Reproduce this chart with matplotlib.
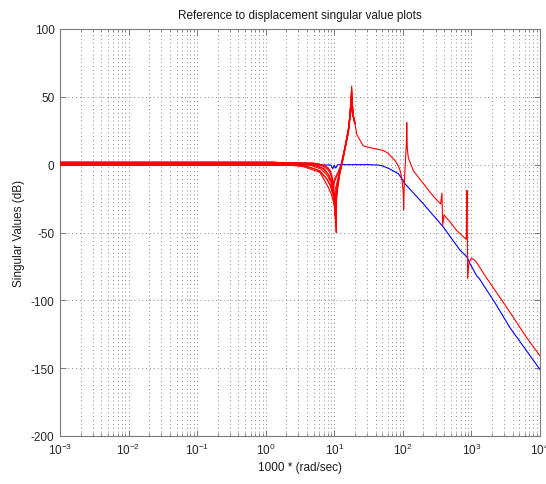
import numpy as np
import matplotlib
matplotlib.use("Agg")
import matplotlib.pyplot as plt
from matplotlib.ticker import LogLocator, LogFormatterMathtext, FixedLocator, NullFormatter

plt.rcParams["font.family"] = ["Liberation Sans", "DejaVu Sans"]
plt.rcParams["mathtext.fontset"] = "custom"
plt.rcParams["mathtext.rm"] = "Liberation Sans"
plt.rcParams["mathtext.it"] = "Liberation Sans"
plt.rcParams["axes.unicode_minus"] = False

TITLE = "Reference to displacement singular value plots"
XLABEL = "1000 * (rad/sec)"
YLABEL = "Singular Values (dB)"
Y_TICKS = [-200, -150, -100, -50, 0, 50, 100]

# Reference model (blue)
BLUE_FREQ = [0.001, 3.16, 8.9, 9.5, 10.0, 10.5, 11.2, 31.6, 44.7, 50.0, 64.6,
             86.0, 101.0, 107.0, 200.0, 360.0, 389.0, 681.0, 861.0, 955.0,
             1194.0, 1303.0, 2089.0, 2344.0, 3631.0, 10000.0]
BLUE_DB = [0.0, 0.0, -0.3, -3.0, -0.5, -2.5, 0.0, 0.0, -0.3, -0.8, -3.2,
           -6.7, -11.8, -14.0, -29.0, -44.0, -46.0, -63.0, -68.0, -73.0,
           -82.0, -84.0, -100.0, -104.0, -120.0, -151.0]

# Displacement responses (red): individual low-frequency parts up to the first peak
RED1_FREQ = [0.001, 1.26, 1.58, 5.01, 7.08, 8.51, 9.23, 9.66, 10.0, 10.96, 12.11,
             12.82, 14.35, 16.03, 16.98, 17.70, 18.41, 19.95]
RED1_DB = [2.0, 2.0, 1.6, 1.2, -0.5, -3.5, -8.0, -22.0, -13.0, -8.0, -3.0,
           1.5, 13.5, 26.0, 38.0, 49.0, 38.0, 30.5]

RED2_FREQ = [0.001, 2.0, 5.01, 7.08, 8.51, 9.33, 9.77, 10.0, 10.28, 10.96, 12.11,
             12.82, 14.35, 16.03, 16.98, 17.82, 18.54, 19.95]
RED2_DB = [1.4, 1.4, 1.0, -1.5, -5.0, -11.0, -18.0, -30.0, -19.0, -13.0, -4.0,
           0.8, 13.0, 25.5, 37.5, 54.0, 37.0, 30.5]

RED3_FREQ = [0.001, 2.51, 5.01, 7.08, 8.32, 9.12, 9.89, 10.23, 10.47, 11.09, 12.11,
             12.82, 14.35, 16.03, 16.98, 17.95, 18.62, 19.95]
RED3_DB = [0.9, 0.9, 0.2, -3.0, -7.5, -13.0, -22.0, -38.0, -24.0, -15.0, -4.4,
           0.5, 12.7, 25.0, 37.0, 58.0, 38.0, 30.5]

RED4_FREQ = [0.001, 2.51, 4.47, 6.31, 7.94, 8.91, 9.66, 10.12, 10.42, 11.09, 12.11,
             12.82, 14.35, 16.03, 16.98, 18.07, 18.71, 19.95]
RED4_DB = [0.4, 0.4, -0.5, -3.0, -8.0, -13.0, -19.0, -28.0, -22.0, -15.5, -5.0,
           0.0, 12.0, 24.5, 36.0, 51.0, 37.0, 30.5]

RED5_FREQ = [0.001, 2.51, 3.98, 6.17, 7.94, 8.91, 9.77, 10.23, 10.47, 10.67, 11.22,
             12.11, 12.82, 14.35, 16.03, 16.98, 18.20, 18.84, 19.95]
RED5_DB = [-0.1, -0.1, -1.2, -4.5, -11.0, -16.0, -24.0, -32.0, -44.0, -27.0, -16.0,
           -5.2, -0.3, 11.8, 24.0, 35.5, 47.0, 36.0, 30.5]

RED6_FREQ = [0.001, 2.51, 3.55, 6.17, 8.18, 9.12, 10.0, 10.47, 10.67, 10.84, 11.48,
             12.11, 12.82, 14.35, 16.03, 16.98, 18.28, 18.97, 19.95]
RED6_DB = [-0.6, -0.6, -1.5, -5.6, -16.7, -22.0, -30.0, -38.0, -50.0, -22.0, -13.0,
           -5.6, -0.6, 11.5, 23.5, 35.0, 44.0, 35.0, 30.5]

RED7_FREQ = [0.001, 1.26, 1.58, 5.62, 7.50, 8.71, 9.23, 9.44, 9.77, 10.47, 11.48,
             12.59, 14.13, 16.03, 16.98, 17.78, 18.45, 19.95]
RED7_DB = [1.7, 1.7, 1.4, 0.8, -1.0, -4.5, -9.0, -20.0, -12.0, -9.0, -5.0,
           0.5, 11.5, 25.5, 37.5, 52.0, 38.0, 30.5]

RED8_FREQ = [0.001, 2.51, 4.73, 6.68, 8.13, 9.02, 9.77, 10.35, 10.59, 11.22, 12.11,
             12.82, 14.35, 16.03, 16.98, 18.00, 18.66, 19.95]
RED8_DB = [0.6, 0.6, -0.2, -2.5, -7.0, -12.0, -20.0, -33.0, -22.0, -14.0, -4.8,
           0.2, 12.3, 24.8, 36.5, 55.0, 37.5, 30.5]

RED9_FREQ = [0.001, 2.51, 3.76, 5.62, 7.50, 8.71, 9.55, 10.23, 10.52, 10.72, 11.35,
             12.11, 12.82, 14.35, 16.03, 16.98, 18.14, 18.78, 19.95]
RED9_DB = [0.1, 0.1, -1.0, -3.8, -9.5, -15.0, -22.0, -32.0, -46.0, -25.0, -14.5,
           -5.4, -0.4, 11.6, 23.8, 35.2, 49.0, 36.5, 30.5]

# Shared high-frequency part of the red responses (the curves coincide here)
RED_TAIL_FREQ = [19.95, 21.38, 26.30, 33.11, 38.90, 44.67, 52.48, 60.26, 67.61, 76.91,
                 85.11, 90.78, 96.61, 101.2, 102.8, 104.7, 108.4, 112.2, 114.0,
                 116.1, 120.2, 127.1, 141.9, 199.5, 275.4, 354.8, 371.5, 380.2,
                 398.1, 501.2, 609.5, 758.6, 841.4, 861.0, 881.0, 922.6, 1000.0,
                 1122.0, 1259.0, 1660.0, 2917.0, 4074.0, 6397.0, 10000.0]
RED_TAIL_DB = [30.5, 22.0, 14.0, 12.5, 11.8, 11.2, 10.3, 8.6, 6.0, 3.0,
               -0.5, -4.0, -10.0, -20.0, -33.0, -15.0, 0.0, 14.0, 31.0,
               12.0, 5.0, 2.0, -4.4, -14.0, -23.0, -29.0, -21.0, -45.0,
               -37.0, -43.0, -48.5, -53.0, -55.0, -19.0, -84.0, -72.0, -69.0,
               -70.5, -74.0, -83.5, -101.5, -112.5, -127.5, -141.0]

RED_HEADS = [(RED1_FREQ, RED1_DB), (RED7_FREQ, RED7_DB), (RED2_FREQ, RED2_DB),
             (RED3_FREQ, RED3_DB), (RED8_FREQ, RED8_DB), (RED4_FREQ, RED4_DB),
             (RED9_FREQ, RED9_DB), (RED5_FREQ, RED5_DB), (RED6_FREQ, RED6_DB)]

fig = plt.figure(figsize=(5.46, 4.85), dpi=100)
ax = fig.add_axes([60 / 546, 1 - 437 / 485, 480 / 546, 407 / 485])

ax.semilogx(BLUE_FREQ, BLUE_DB, color="#0000ff", lw=0.8, zorder=3)
for f_head, db_head in RED_HEADS:
    ax.semilogx(f_head, db_head, color="#ff0000", lw=0.8, zorder=4)
ax.semilogx(RED_TAIL_FREQ, RED_TAIL_DB, color="#ff0000", lw=0.8, zorder=4)

ax.set_xlim(1e-3, 1e4)
ax.set_ylim(-200, 100)
ax.xaxis.set_major_locator(LogLocator(base=10, numticks=20))
ax.xaxis.set_minor_locator(LogLocator(base=10, subs=np.arange(2, 10), numticks=20))
ax.xaxis.set_major_formatter(LogFormatterMathtext())
ax.xaxis.set_minor_formatter(NullFormatter())
ax.yaxis.set_major_locator(FixedLocator(Y_TICKS))

grid_style = dict(color="#8a8a8a", linestyle=(0, (1, 3)), linewidth=0.7)
ax.grid(True, which="major", axis="both", **grid_style)
ax.grid(True, which="minor", axis="x", **grid_style)
ax.set_axisbelow(True)

for side in ax.spines.values():
    side.set_color("#7a7a7a")
    side.set_linewidth(0.8)
ax.tick_params(which="both", direction="in", top=True, right=True,
               color="#7a7a7a", labelcolor="#262626", labelsize=8.5, pad=4)
ax.tick_params(which="major", length=4, width=0.7)
ax.tick_params(which="minor", length=2, width=0.6)

ax.set_title(TITLE, fontsize=8.5, color="#1a1a1a", pad=8)
ax.set_xlabel(XLABEL, fontsize=8.5, color="#1a1a1a", labelpad=3)
ax.set_ylabel(YLABEL, fontsize=8.5, color="#1a1a1a", labelpad=4)

fig.savefig("out.png", dpi=100)
